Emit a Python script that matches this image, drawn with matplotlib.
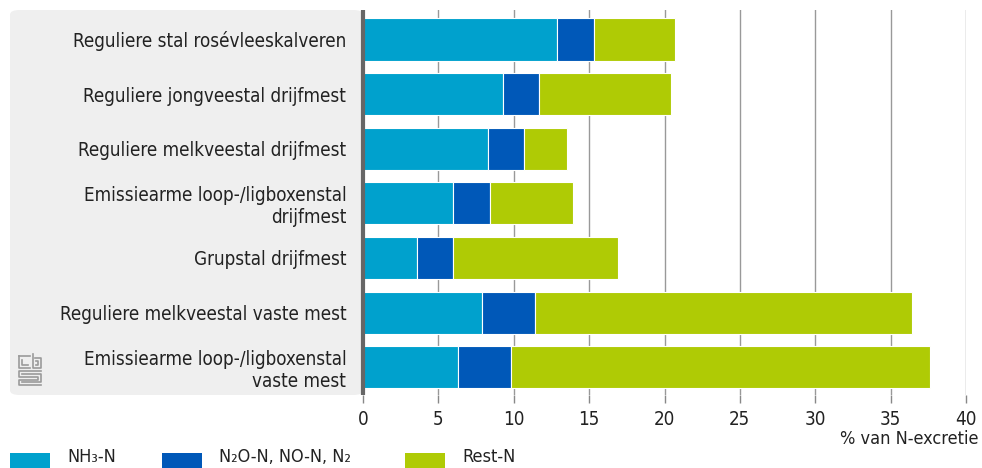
import matplotlib
matplotlib.use("Agg")
import matplotlib.pyplot as plt
from matplotlib.patches import FancyBboxPatch, Rectangle
from matplotlib.lines import Line2D

categories = [
    "Reguliere stal rosévleeskalveren",
    "Reguliere jongveestal drijfmest",
    "Reguliere melkveestal drijfmest",
    "Emissiearme loop-/ligboxenstal\ndrijfmest",
    "Grupstal drijfmest",
    "Reguliere melkveestal vaste mest",
    "Emissiearme loop-/ligboxenstal\nvaste mest",
]
nh3 = [12.9, 9.3, 8.3, 6.0, 3.6, 7.9, 6.3]
n2o = [2.4, 2.4, 2.4, 2.4, 2.4, 3.5, 3.5]
rest = [5.4, 8.7, 2.8, 5.5, 10.9, 25.0, 27.8]
series_names = ["NH₃-N", "N₂O-N, NO-N, N₂", "Rest-N"]
colors = ["#00a1cd", "#0058b8", "#afcb05"]
xticks = [0, 5, 10, 15, 20, 25, 30, 35, 40]

plt.rcParams["font.family"] = ["DejaVu Sans"]
plt.rcParams["font.stretch"] = "condensed"

fig = plt.figure(figsize=(9.82, 4.68), dpi=100)

# grey panel behind the category labels
panel = FancyBboxPatch((10 / 982, 1 - 395 / 468), (363 - 10) / 982, (395 - 10) / 468,
                       boxstyle="round,pad=0,rounding_size=0.01",
                       transform=fig.transFigure, facecolor="#efefef",
                       edgecolor="none", zorder=-5)
fig.patches.append(panel)

ax = fig.add_axes([363 / 982, 1 - 395 / 468, (966 - 363) / 982, (395 - 10) / 468])
ax.set_facecolor("none")
ax.set_zorder(2)

ypos = list(range(len(categories)))
left = [0] * len(categories)
for vals, name, col in zip([nh3, n2o, rest], series_names, colors):
    ax.barh(ypos, vals, left=left, height=0.77, color=col, edgecolor="white",
            linewidth=0.8, label=name, zorder=3)
    left = [a + b for a, b in zip(left, vals)]

ax.set_xlim(0, 40)
ax.set_ylim(6.51, -0.54)
ax.set_xticks(xticks)
ax.set_xticklabels([str(t) for t in xticks], fontsize=13.5, color="#222222")
ax.set_yticks(ypos)
ax.set_yticklabels(categories, fontsize=13.5, color="#222222", linespacing=1.18)
ax.tick_params(axis="y", length=0, pad=12)
ax.tick_params(axis="x", length=6, color="#888888", width=1, pad=5)
ax.grid(axis="x", color="#999999", linewidth=1, zorder=0)

for s in ["top", "right", "bottom"]:
    ax.spines[s].set_visible(False)
ax.spines["left"].set_color("#666666")
ax.spines["left"].set_linewidth(3)
ax.spines["left"].set_capstyle("butt")
ax.spines["left"].set_zorder(4)

fig.text(978 / 982, 1 - 439 / 468, "% van N-excretie", ha="right", va="center",
         fontsize=13, color="#222222")

# legend along the bottom
leg_x = [10, 162, 405]
for x0, name, col in zip(leg_x, series_names, colors):
    fig.patches.append(Rectangle((x0 / 982, 0), 40 / 982, 15 / 468,
                                 transform=fig.transFigure, facecolor=col,
                                 edgecolor="none"))
    fig.text((x0 + 57) / 982, 1 - 457 / 468, name, ha="left", va="center",
             fontsize=13, color="#222222")

# simple cbs mark
logo_col = "#9a9a9a"
segs = [
    [(19, 356), (19, 368), (30, 368)], [(19, 356), (30, 356)], [(22, 360), (22, 365), (28, 365)],
    [(33, 354), (33, 368), (41, 368), (41, 358), (35, 358)], [(36, 361), (38, 361), (38, 365), (36, 365)],
    [(41, 371), (19, 371), (19, 377), (38, 377), (38, 380), (19, 380), (19, 385), (41, 385)],
    [(22, 374), (41, 374), (41, 382), (22, 382)],
]
for seg in segs:
    xs = [p[0] / 982 for p in seg]
    ys = [1 - p[1] / 468 for p in seg]
    fig.add_artist(Line2D(xs, ys, color=logo_col, linewidth=1.2, transform=fig.transFigure))

fig.savefig("out.png", dpi=100)
